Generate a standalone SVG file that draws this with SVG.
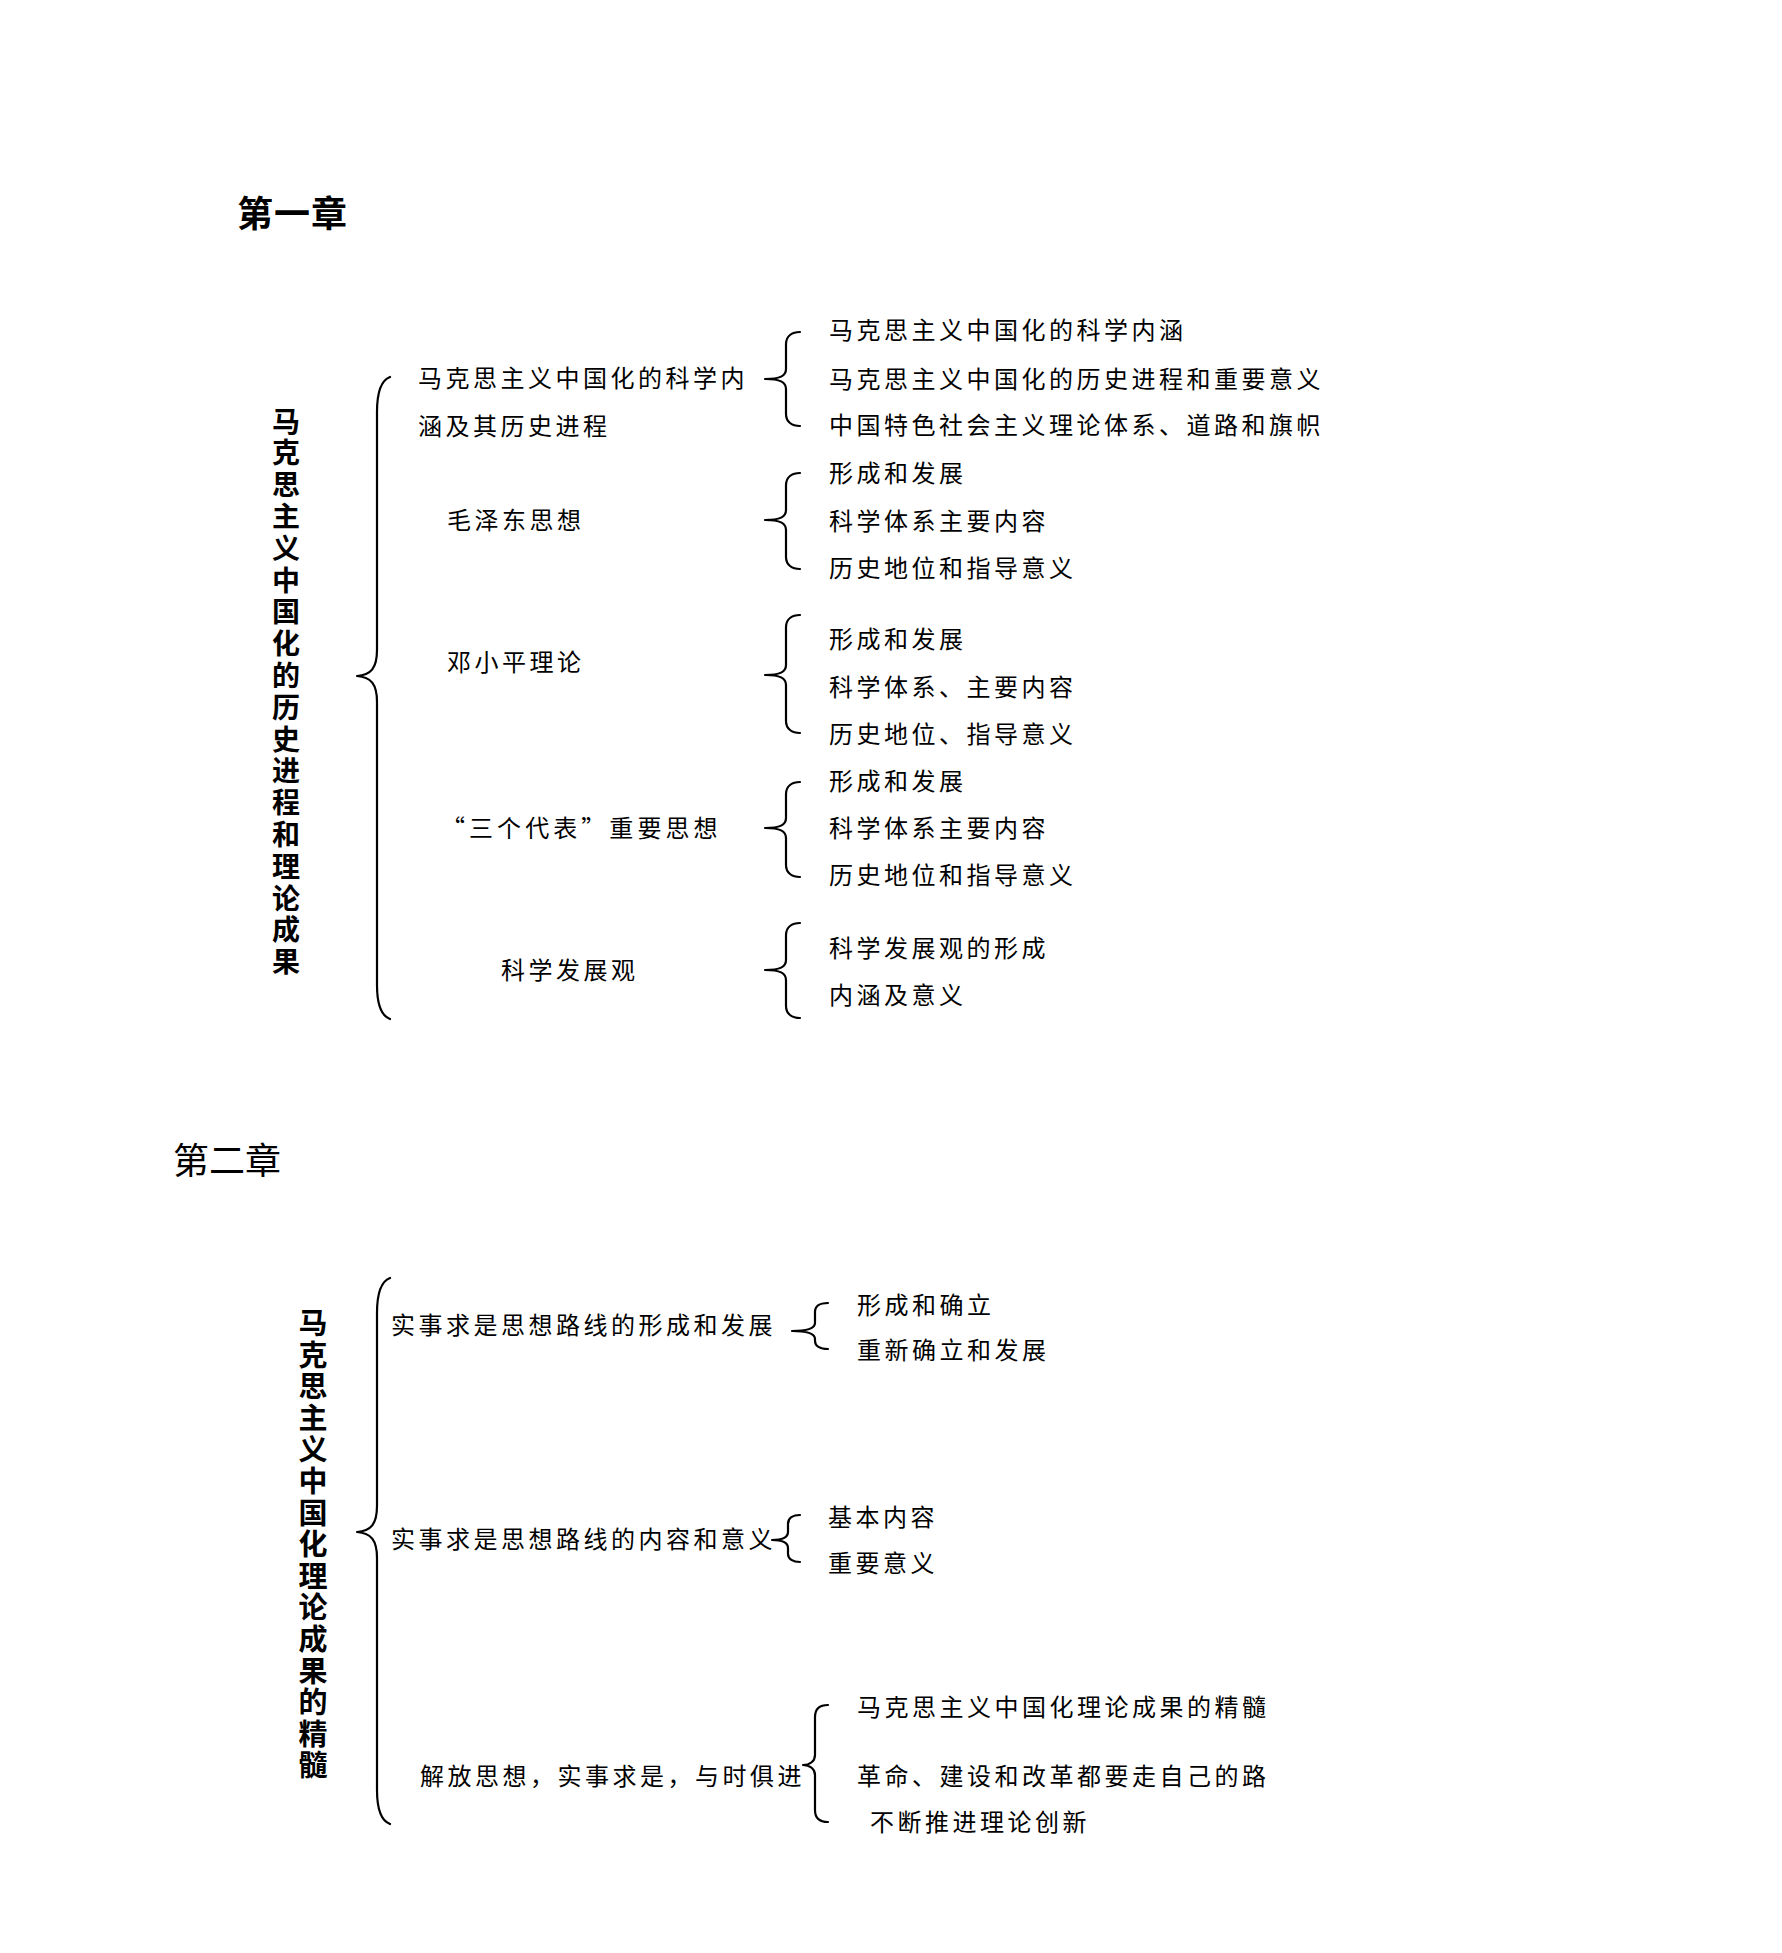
<svg xmlns="http://www.w3.org/2000/svg" width="1782" height="1953" viewBox="0 0 1782 1953">
<style>
  .t { font-family: "Noto Sans CJK SC", "Noto Sans", sans-serif; font-size: 24px; letter-spacing: 3.5px; fill: #000; }
  .h1 { font-family: "Noto Sans CJK SC", sans-serif; font-size: 36px; font-weight: bold; letter-spacing: 1px; fill: #000; }
  .h2 { font-family: "Noto Sans CJK SC", sans-serif; font-size: 36px; letter-spacing: 0px; fill: #000; }
  .v1 { font-family: "Noto Sans CJK SC", sans-serif; font-size: 28px; font-weight: bold; fill: #000; writing-mode: vertical-rl; letter-spacing: 3.8px; }
  .v2 { font-family: "Noto Sans CJK SC", sans-serif; font-size: 29px; font-weight: bold; fill: #000; writing-mode: vertical-rl; letter-spacing: 2.6px; }
  .br { fill: none; stroke: #000; stroke-width: 2.2; stroke-linecap: round; stroke-linejoin: round; }
</style>
<rect width="1782" height="1953" fill="#fff"/>

<g id="ch1-heading"><text class="h1" x="237" y="227">第一章</text></g>

<g id="ch1-root"><text class="v1" x="286" y="407">马克思主义中国化的历史进程和理论成果</text></g>

<g id="ch1-n1">
  <text class="t" x="418" y="387">马克思主义中国化的科学内</text>
  <text class="t" x="418" y="435">涵及其历史进程</text>
</g>
<g id="ch1-n1-items">
  <text class="t" x="829" y="339">马克思主义中国化的科学内涵</text>
  <text class="t" x="829" y="388">马克思主义中国化的历史进程和重要意义</text>
  <text class="t" x="829" y="434">中国特色社会主义理论体系、道路和旗帜</text>
</g>

<g id="ch1-n2"><text class="t" x="447" y="529">毛泽东思想</text></g>
<g id="ch1-n2-items">
  <text class="t" x="829" y="482">形成和发展</text>
  <text class="t" x="829" y="530">科学体系主要内容</text>
  <text class="t" x="829" y="577">历史地位和指导意义</text>
</g>

<g id="ch1-n3"><text class="t" x="447" y="671">邓小平理论</text></g>
<g id="ch1-n3-items">
  <text class="t" x="829" y="648">形成和发展</text>
  <text class="t" x="829" y="696">科学体系、主要内容</text>
  <text class="t" x="829" y="743">历史地位、指导意义</text>
</g>

<g id="ch1-n4"><text class="t" x="441" y="837" textLength="280" lengthAdjust="spacing">“三个代表”重要思想</text></g>
<g id="ch1-n4-items">
  <text class="t" x="829" y="790">形成和发展</text>
  <text class="t" x="829" y="837">科学体系主要内容</text>
  <text class="t" x="829" y="884">历史地位和指导意义</text>
</g>

<g id="ch1-n5"><text class="t" x="501" y="979">科学发展观</text></g>
<g id="ch1-n5-items">
  <text class="t" x="829" y="957">科学发展观的形成</text>
  <text class="t" x="829" y="1004">内涵及意义</text>
</g>

<g id="ch2-heading"><text class="h2" x="173" y="1174">第二章</text></g>

<g id="ch2-root"><text class="v2" x="313" y="1308.5">马克思主义中国化理论成果的精髓</text></g>

<g id="ch2-n1"><text class="t" x="391" y="1334">实事求是思想路线的形成和发展</text></g>
<g id="ch2-n1-items">
  <text class="t" x="857" y="1314">形成和确立</text>
  <text class="t" x="857" y="1359">重新确立和发展</text>
</g>

<g id="ch2-n2"><text class="t" x="391" y="1548">实事求是思想路线的内容和意义</text></g>
<g id="ch2-n2-items">
  <text class="t" x="828" y="1526">基本内容</text>
  <text class="t" x="828" y="1572">重要意义</text>
</g>

<g id="ch2-n3"><text class="t" x="420" y="1785">解放思想，实事求是，与时俱进</text></g>
<g id="ch2-n3-items">
  <text class="t" x="857" y="1716">马克思主义中国化理论成果的精髓</text>
  <text class="t" x="857" y="1785">革命、建设和改革都要走自己的路</text>
  <text class="t" x="870" y="1831">不断推进理论创新</text>
</g>

<g id="connectors">
  <path class="br" d="M390,377 C382,380 377,392 377,412 L377,650 C377,668 371,675 357,676 C371,677 377,684 377,702 L377,985 C377,1005 382,1016 390,1019"/>
  <path class="br" d="M800,332 C792,332 786,336 786,344 L786,369 C786,376 780,379 765,379 C780,379 786,382 786,389 L786,414 C786,422 792,426 800,426"/>
  <path class="br" d="M800,473 C792,473 786,477 786,485 L786,510 C786,517 780,520 765,520 C780,520 786,523 786,530 L786,557 C786,565 792,569 800,569"/>
  <path class="br" d="M800,615 C792,615 786,619 786,627 L786,665 C786,672 780,675 765,675 C780,675 786,678 786,685 L786,721 C786,729 792,733 800,733"/>
  <path class="br" d="M800,782 C792,782 786,786 786,794 L786,818 C786,825 780,828 765,828 C780,828 786,831 786,838 L786,865 C786,873 792,877 800,877"/>
  <path class="br" d="M800,923 C792,923 786,927 786,935 L786,960 C786,967 780,970 765,970 C780,970 786,973 786,980 L786,1006 C786,1014 792,1018 800,1018"/>
  <path class="br" d="M390,1278 C382,1281 377,1293 377,1313 L377,1506 C377,1524 371,1531 357,1532 C371,1533 377,1540 377,1558 L377,1790 C377,1810 382,1821 390,1824"/>
  <path class="br" d="M828,1303 C820,1303 815,1306 815,1312 L815,1323 C815,1328 809,1331 792,1331 C809,1331 815,1334 815,1339 L815,1341 C815,1346 820,1349 828,1349"/>
  <path class="br" d="M800,1515 C793,1515 788,1518 788,1524 L788,1532 C788,1537 783,1540 772,1540 C783,1540 788,1543 788,1548 L788,1554 C788,1559 793,1562 800,1562"/>
  <path class="br" d="M828,1705 C820,1705 815,1709 815,1717 L815,1755 C815,1761 810,1765 803,1765 C810,1765 815,1769 815,1775 L815,1810 C815,1818 820,1822 828,1822"/>
</g>
</svg>
